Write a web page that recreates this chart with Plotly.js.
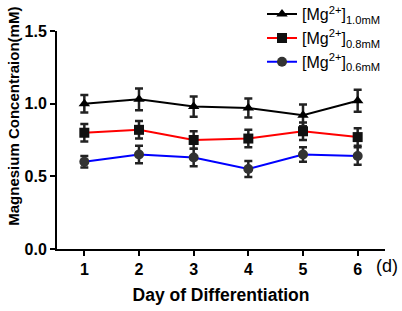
<!DOCTYPE html>
<html><head><meta charset="utf-8">
<script src="https://cdn.plot.ly/plotly-3.0.1.min.js"></script>
<style>body{margin:0;padding:0;background:#fff}#chart{width:402px;height:311px}</style>
</head><body><div id="chart"></div>
<script>
var days = [1, 2, 3, 4, 5, 6];
var seriesNames = ['[Mg<sup>2+</sup>]<sub>1.0mM</sub>', '[Mg<sup>2+</sup>]<sub>0.8mM</sub>', '[Mg<sup>2+</sup>]<sub>0.6mM</sub>'];
var mg10 = [1.00, 1.03, 0.98, 0.97, 0.92, 1.02];
var mg10err = [0.06, 0.075, 0.07, 0.065, 0.075, 0.075];
var mg08 = [0.80, 0.82, 0.75, 0.76, 0.81, 0.77];
var mg08err = [0.06, 0.06, 0.06, 0.06, 0.06, 0.06];
var mg06 = [0.60, 0.65, 0.63, 0.55, 0.65, 0.64];
var mg06err = [0.04, 0.06, 0.06, 0.055, 0.05, 0.06];

function tr(y, e, name, lineColor, sym, mColor, grp) {
  return {x: days, y: y, name: name, legendgroup: grp, type: 'scatter', mode: 'lines+markers',
    line: {color: lineColor, width: 2},
    marker: {symbol: sym, size: 10, color: mColor},
    error_y: {type: 'data', array: e, visible: true, color: '#222', thickness: 2.5, width: 4}};
}
var data = [
  tr(mg10, mg10err, seriesNames[0], '#000000', 'triangle-up', '#000000', 'a'),
  tr(mg08, mg08err, seriesNames[1], '#ff0000', 'square', '#111111', 'b'),
  tr(mg06, mg06err, seriesNames[2], '#0000ff', 'circle', '#333333', 'c')
];
var FONT = 'Liberation Sans, Arial, sans-serif';
var layout = {
  width: 402, height: 311,
  margin: {l: 57, r: 17, t: 31, b: 62, autoexpand: false},
  paper_bgcolor: '#fff', plot_bgcolor: '#fff',
  font: {family: FONT, color: '#000'},
  showlegend: true,
  legend: {x: 0.625, y: 1.155, xanchor: 'left', yanchor: 'top', bgcolor: 'rgba(0,0,0,0)',
    font: {size: 16, color: '#000'}, tracegroupgap: 0, itemwidth: 30},
  xaxis: {range: [0.5, 6.5], tickvals: days, ticktext: days.map(String),
    showline: true, linecolor: '#000', linewidth: 2, ticks: 'outside', ticklen: 5, tickwidth: 2, tickcolor: '#000',
    showgrid: false, zeroline: false,
    tickfont: {size: 16, family: FONT, weight: 'bold'},
    title: {text: '<b>Day of Differentiation</b>', font: {size: 17.5}, standoff: 12}},
  yaxis: {range: [0, 1.5], tickvals: [0, 0.5, 1.0, 1.5], tickformat: '.1f',
    showline: true, linecolor: '#000', linewidth: 2, ticks: 'outside', ticklen: 5, tickwidth: 2, tickcolor: '#000',
    showgrid: false, zeroline: false,
    tickfont: {size: 16, family: FONT, weight: 'bold'}},
  annotations: [
    {xref: 'paper', yref: 'paper', x: 1.045, y: -0.08, xanchor: 'right', yanchor: 'middle',
     text: '(d)', showarrow: false, font: {size: 18, color: '#000'}},
    {xref: 'paper', yref: 'paper', x: -0.135, y: 0.61, xanchor: 'center', yanchor: 'middle', textangle: -90,
     text: '<b>Magnesium Concentraion(mM)</b>', showarrow: false, font: {size: 15, color: '#000'}}
  ]
};
Plotly.newPlot('chart', data, layout, {staticPlot: true, displayModeBar: false});
</script></body></html>
